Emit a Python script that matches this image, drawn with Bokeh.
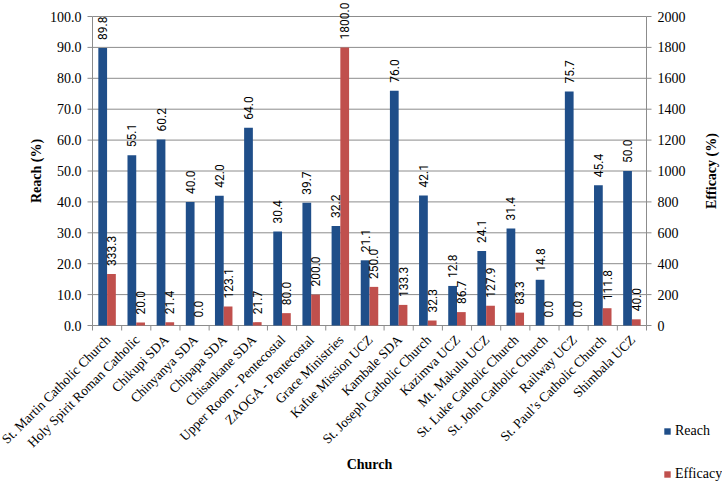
from math import pi
from bokeh.plotting import figure
from bokeh.models import ColumnDataSource, Range1d, Legend, LegendItem
from bokeh.transform import dodge
from bokeh.core.properties import value
from bokeh.embed import file_html
from bokeh.resources import INLINE

churches = ["St. Martin Catholic Church", "Holy Spirit Roman Catholic", "Chikupi SDA",
            "Chinyanya SDA", "Chipapa SDA", "Chisankane SDA", "Upper Room - Pentecostal",
            "ZAOGA - Pentecostal", "Grace Ministries", "Kafue Mission UCZ", "Kambale SDA",
            "St. Joseph Catholic Church", "Kazimva UCZ", "Mt. Makulu UCZ",
            "St. Luke Catholic Church", "St. John Catholic Church", "Railway UCZ",
            "St. Paul\u2019s Catholic Church", "Shimbala UCZ"]
reach = [89.8, 55.1, 60.2, 40.0, 42.0, 64.0, 30.4, 39.7, 32.2, 21.1, 76.0, 42.1,
         12.8, 24.1, 31.4, 14.8, 75.7, 45.4, 50.0]
efficacy = [333.3, 20.0, 21.4, 0.0, 123.1, 21.7, 80.0, 200.0, 1800.0, 250.0, 133.3,
            32.3, 86.7, 127.9, 83.3, 0.0, 0.0, 111.8, 40.0]
reach_ticks = [0, 10, 20, 30, 40, 50, 60, 70, 80, 90, 100]
eff_ticks = [0, 200, 400, 600, 800, 1000, 1200, 1400, 1600, 1800, 2000]

n = len(churches)
pos = list(range(1, n + 1))
bounds = [i + 0.5 for i in range(0, n + 1)]
src = ColumnDataSource(dict(
    x=pos, name=churches, reach=reach, eff=efficacy,
    reach_lbl=[f"{v:.1f}" for v in reach],
    eff_lbl=[f"{v:.1f}" for v in efficacy],
))

BLUE = "#1F4E89"
RED = "#C0504D"
GRID = "#8C8C8C"
SERIF = value("Liberation Serif")
LBL = value("Roboto")

# layout: the frame spans the whole page; axes are drawn in it
W, H = 722, 482
left_px, right_px = 92, 646                     # category span on screen
top_px, zero_px = 16, 325                       # y=100 and y=0 screen rows
ppu = (zero_px - top_px) / 100.0
cat_px = (right_px - left_px) / n
y0 = -(H - zero_px) / ppu
y1 = 100 + top_px / ppu
x0 = 0.5 - left_px / cat_px
x1 = 0.5 + (W - left_px) / cat_px

p = figure(width=W, height=H, output_backend="svg", toolbar_location=None,
           x_range=Range1d(x0, x1), y_range=Range1d(y0, y1),
           x_axis_location=None, y_axis_location=None,
           min_border_left=0, min_border_right=0, min_border_top=0,
           min_border_bottom=0)
p.outline_line_color = None
p.grid.visible = False
ratio = eff_ticks[-1] / reach_ticks[-1]
p.extra_y_ranges = {"eff": Range1d(y0 * ratio, y1 * ratio)}

# gridlines (only across the category span)
p.segment(x0=bounds[0], x1=bounds[-1], y0=reach_ticks, y1=reach_ticks,
          line_color=GRID, line_width=1)
# axis lines: left, right, bottom
p.segment(x0=[bounds[0], bounds[-1], bounds[0]], x1=[bounds[0], bounds[-1], bounds[-1]],
          y0=[0, 0, 0], y1=[reach_ticks[-1], reach_ticks[-1], 0],
          line_color=GRID, line_width=1)
# ticks
p.ray(x=bounds, y=0, length=5, length_units="screen", angle=-pi / 2,
      line_color=GRID, line_width=1)
p.ray(x=bounds[0], y=reach_ticks, length=5, length_units="screen", angle=pi,
      line_color=GRID, line_width=1)
p.ray(x=bounds[-1], y=eff_ticks, length=5, length_units="screen", angle=0,
      line_color=GRID, line_width=1, y_range_name="eff")

bw = 0.30
rb = p.vbar(x=dodge("x", -0.15), top="reach", width=bw, source=src,
            fill_color=BLUE, line_color=None)
eb = p.vbar(x=dodge("x", 0.15), top="eff", width=bw, source=src,
            fill_color=RED, line_color=None, y_range_name="eff")

p.text(x=dodge("x", -0.15), y="reach", text="reach_lbl", source=src, angle=pi / 2,
       text_align="left", text_baseline="middle", y_offset=-8,
       text_font=LBL, text_font_size="12px", text_color="#000000")
p.text(x=dodge("x", 0.15), y="eff", text="eff_lbl", source=src, angle=pi / 2,
       text_align="left", text_baseline="middle", y_offset=-8,
       text_font=LBL, text_font_size="12px", text_color="#000000",
       y_range_name="eff")

# category labels
p.text(x="x", y=0, text="name", source=src, angle=pi / 4,
       text_align="right", text_baseline="middle", x_offset=1, y_offset=12,
       text_font=SERIF, text_font_size="13.5px", text_color="#000000")
# x axis title
p.text(x=[sum(pos) / n], y=[0], text=["Church"], y_offset=139,
       text_align="center", text_baseline="middle", text_font=SERIF,
       text_font_style="bold", text_font_size="14px", text_color="#000000")

# left axis labels + title
p.text(x=bounds[0], y=reach_ticks, text=[f"{t:.1f}" for t in reach_ticks], x_offset=-11,
       text_align="right", text_baseline="middle", text_font=SERIF,
       text_font_size="14px", text_color="#000000")
p.text(x=[bounds[0]], y=[reach_ticks[-1] / 2], text=["Reach (%)"], x_offset=-56,
       angle=pi / 2, text_align="center", text_baseline="middle",
       text_font=SERIF, text_font_style="bold", text_font_size="14px",
       text_color="#000000")

# right axis labels + title
p.text(x=bounds[-1], y=eff_ticks, text=[str(t) for t in eff_ticks], x_offset=11,
       text_align="left", text_baseline="middle", text_font=SERIF,
       text_font_size="14px", text_color="#000000", y_range_name="eff")
p.text(x=[bounds[-1]], y=[reach_ticks[-1] / 2], text=["Efficacy (%)"], x_offset=65,
       angle=pi / 2, text_align="center", text_baseline="middle",
       text_font=SERIF, text_font_style="bold", text_font_size="14px",
       text_color="#000000")

legend = Legend(items=[LegendItem(label="Reach", renderers=[rb]),
                       LegendItem(label="Efficacy", renderers=[eb])],
                location=(663, 0), orientation="vertical",
                glyph_width=8, glyph_height=8, label_height=16, spacing=27,
                label_text_font="Liberation Serif", label_text_font_size="14px",
                label_text_color="#000000",
                label_standoff=4, background_fill_alpha=0,
                border_line_color=None, padding=0, margin=0)
p.add_layout(legend, "center")

open("out.html", "w").write(file_html(p, INLINE))
